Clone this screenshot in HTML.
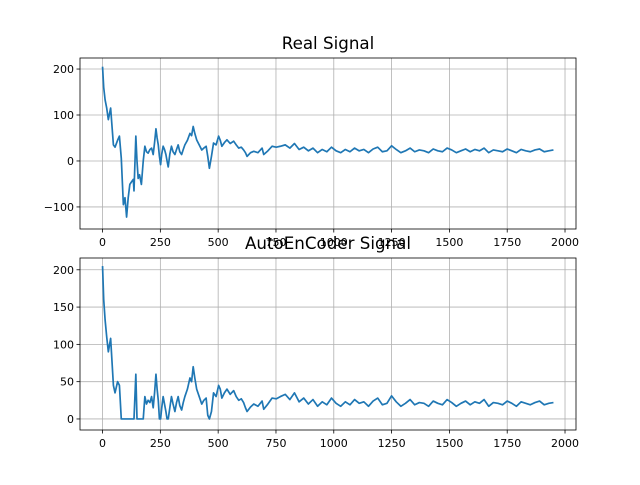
<!DOCTYPE html>
<html><head><meta charset="utf-8"><style>
body{margin:0;background:#fff}
svg text{font-family:"DejaVu Sans","Liberation Sans",sans-serif;fill:#000}
</style></head><body>
<svg id="fig" width="640" height="480" xmlns="http://www.w3.org/2000/svg"></svg>
<script>
const xs = [0,5,11,18,25,35,47,54,65,73,81,90,97,104,111,118,126,133,136,144,149,154,160,168,176,183,190,197,205,212,219,225,231,236,241,246,251,256,262,268,274,279,284,291,298,305,313,320,327,334,342,349,356,367,378,385,392,399,407,418,429,438,448,455,462,471,480,491,502,509,516,527,538,552,567,578,589,600,610,618,625,640,654,672,690,697,715,733,751,769,790,810,830,850,870,890,910,930,950,970,990,1010,1030,1050,1070,1090,1110,1130,1150,1170,1190,1210,1230,1250,1270,1290,1310,1330,1350,1370,1390,1410,1430,1450,1470,1490,1510,1530,1550,1570,1590,1610,1630,1650,1670,1690,1710,1730,1750,1770,1790,1810,1830,1850,1870,1890,1910,1930,1950];
const realSignal = [205,160,133,115,90,115,35,30,45,54,6,-95,-80,-122,-80,-51,-45,-40,-65,54,0,-38,-30,-51,0,32,20,17,25,28,14,40,70,50,35,10,-8,15,32,25,14,0,-13,15,32,20,14,25,35,20,14,25,35,45,60,55,75,60,46,35,24,28,32,10,-16,10,39,35,54,45,32,40,46,38,43,35,28,30,24,18,10,18,21,18,28,14,22,32,30,32,
35,28,38,25,30,22,28,18,25,20,30,22,18,25,20,28,22,25,18,26,30,20,22,33,25,18,22,28,20,24,22,18,26,22,20,28,24,18,22,26,20,25,22,28,18,24,22,20,26,22,18,25,22,20,24,26,20,22,24];
const aeSignal = [205,160,133,110,90,108,45,35,50,45,0,0,0,0,0,0,0,0,0,60,0,0,0,0,0,30,20,25,22,30,15,35,60,40,25,0,0,15,30,20,10,0,0,15,30,20,10,22,30,18,12,22,30,40,55,50,70,55,40,30,20,25,28,5,0,10,35,30,45,40,28,35,40,33,38,30,25,27,22,15,10,16,20,17,24,13,20,28,27,30,
33,26,35,23,28,20,26,17,23,19,28,21,17,23,19,26,21,23,17,24,28,19,21,31,23,17,21,26,19,22,21,17,24,21,19,26,22,17,21,24,19,23,21,26,17,22,21,19,24,21,17,23,21,19,22,24,19,21,22];
const xTicks = [0,250,500,750,1000,1250,1500,1750,2000];
const yTicksTop = [-100,0,100,200];
const yTicksBot = [0,50,100,150,200];

const NS="http://www.w3.org/2000/svg";
const svg=document.getElementById('fig');
function mk(t,a){const e=document.createElementNS(NS,t);for(const k in a)e.setAttribute(k,a[k]);svg.appendChild(e);return e;}
function panel(p){
  const sx=v=>p.l+(v-(-97.5))/(2145)*(p.r-p.l);
  const sy=v=>p.b-(v-p.ymin)/(p.ymax-p.ymin)*(p.b-p.t);
  const bg=mk('rect',{x:p.l,y:p.t,width:p.r-p.l,height:p.b-p.t,fill:'#fff'});
  
  
  xTicks.forEach(v=>{const x=sx(v);
    const g=mk('line',{x1:x,x2:x,y1:p.t,y2:p.b,stroke:'#b0b0b0','stroke-width':0.8});
    
    
    mk('line',{x1:x,x2:x,y1:p.b,y2:p.b+3.5,stroke:'#000','stroke-width':0.8});
    const t=mk('text',{x:x,y:p.b+17,'font-size':11,'text-anchor':'middle'});t.textContent=v;
    
    
  });
  p.yt.forEach(v=>{const y=sy(v);
    const g=mk('line',{x1:p.l,x2:p.r,y1:y,y2:y,stroke:'#b0b0b0','stroke-width':0.8});
    
    
    mk('line',{x1:p.l-3.5,x2:p.l,y1:y,y2:y,stroke:'#000','stroke-width':0.8});
    const t=mk('text',{x:p.l-6,y:y+4,'font-size':11,'text-anchor':'end'});t.textContent=v<0?'\u2212'+(-v):v;
    
    
  });
  const d=xs.map((x,i)=>(i?'L':'M')+sx(x).toFixed(2)+','+sy(p.data[i]).toFixed(2)).join('');
  const ln=mk('path',{d:d,fill:'none',stroke:'#1f77b4','stroke-width':1.7,'stroke-linejoin':'round'});
  
  
  const fr=mk('rect',{x:p.l,y:p.t,width:p.r-p.l,height:p.b-p.t,fill:'none',stroke:'#000','stroke-width':0.8});
  
  
  const ti=mk('text',{x:(p.l+p.r)/2,y:p.t-9,'font-size':16.7,'text-anchor':'middle'});ti.textContent=p.title;
  
  
}
panel({name:'real-signal',l:80,r:576,t:58,b:229,ymin:-148,ymax:224,yt:yTicksTop,data:realSignal,title:'Real Signal'});
panel({name:'autoencoder-signal',l:80,r:576,t:258,b:430,ymin:-14.8,ymax:215.8,yt:yTicksBot,data:aeSignal,title:'AutoEnCoder Signal'});
</script>
</body></html>
